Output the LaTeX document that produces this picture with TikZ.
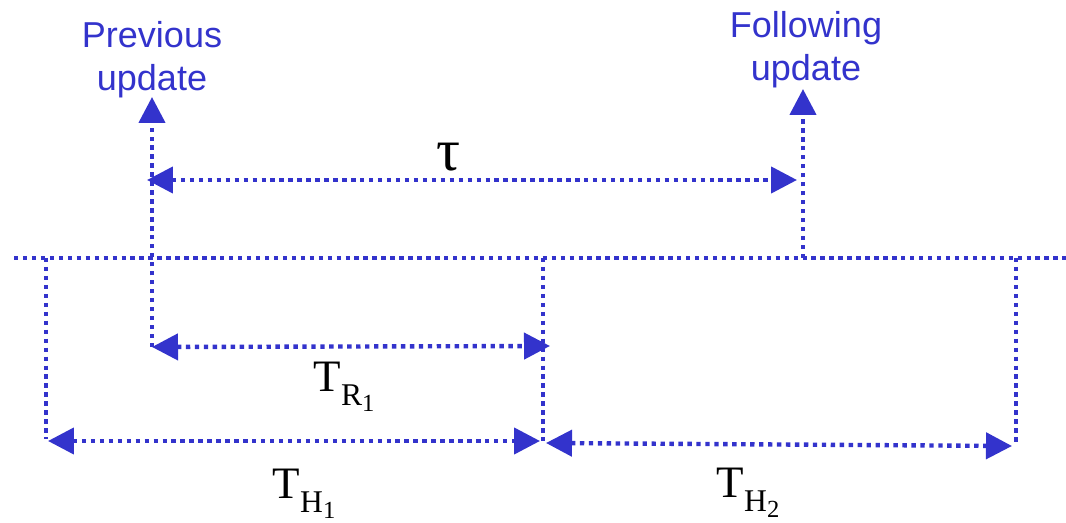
\documentclass[tikz,border=0pt]{standalone}
\usepackage{fontspec}
\setmainfont{Liberation Sans}
\newfontfamily\timesfont{Liberation Serif}
\usetikzlibrary{arrows.meta}

\definecolor{updblue}{RGB}{51,51,204}

\tikzset{
dotline/.style={draw=updblue, line width=2.5pt, dash pattern=on 2.5pt off 2.6pt},
headone/.style={-{Triangle[length=0.52cm,width=0.52cm]}},
headtwo/.style={{Triangle[length=0.52cm,width=0.52cm]}-{Triangle[length=0.52cm,width=0.52cm]}},
updlabel/.style={text=updblue, font=\fontsize{20.5}{24.5}\selectfont, align=center, inner sep=0pt},
timelabel/.style={font=\timesfont\fontsize{25.6}{26}\selectfont, inner sep=0pt}
}

\newcommand{\tsub}[2]{T\raisebox{-8pt}{\fontsize{18}{18}\selectfont #1\raisebox{-3.5pt}{\fontsize{14}{14}\selectfont #2}}}

\begin{document}
\begin{tikzpicture}[x=0.02cm, y=-0.02cm]

\useasboundingbox (0,0) rectangle (1066,523);

%%%%%%%%%%%%%%%%%%%%%%%%%%%%%%%%%%%%%%%%%%%%%%%%%%%%%%%%%%%%
% POINTS
%%%%%%%%%%%%%%%%%%%%%%%%%%%%%%%%%%%%%%%%%%%%%%%%%%%%%%%%%%%%

\coordinate (lineL) at (14,258);
\coordinate (lineR) at (1066,258);

\coordinate (prevlow) at (152,347);
\coordinate (prevtop) at (152,97);
\coordinate (folllow) at (803,258);
\coordinate (folltop) at (803,89);

\coordinate (tauL) at (147,180);
\coordinate (tauR) at (797,180);

\coordinate (leftup) at (46,258);
\coordinate (leftdown) at (46,439);
\coordinate (midup) at (543,258);
\coordinate (middown) at (543,441);
\coordinate (rightup) at (1016,258);
\coordinate (rightdown) at (1016,446);

\coordinate (rA) at (152,347);
\coordinate (rB) at (550,346);
\coordinate (hA) at (48,441);
\coordinate (hB) at (540,441);
\coordinate (hC) at (546,443);
\coordinate (hD) at (1012,446);

%%%%%%%%%%%%%%%%%%%%%%%%%%%%%%%%%%%%%%%%%%%%%%%%%%%%%%%%%%%%
% Updates
%%%%%%%%%%%%%%%%%%%%%%%%%%%%%%%%%%%%%%%%%%%%%%%%%%%%%%%%%%%%

\node[updlabel](prev) at (152,60) {Previous\\update};
\node[updlabel](foll) at (806,50) {Following\\update};

\draw[dotline,headone] (prevlow) -- (prevtop);
\draw[dotline,headone] (folllow) -- (folltop);

%%%%%%%%%%%%%%%%%%%%%%%%%%%%%%%%%%%%%%%%%%%%%%%%%%%%%%%%%%%%
% Time line
%%%%%%%%%%%%%%%%%%%%%%%%%%%%%%%%%%%%%%%%%%%%%%%%%%%%%%%%%%%%

\draw[dotline] (lineL) -- (lineR);
\draw[dotline] (leftup) -- (leftdown);
\draw[dotline] (midup) -- (middown);
\draw[dotline] (rightup) -- (rightdown);

%%%%%%%%%%%%%%%%%%%%%%%%%%%%%%%%%%%%%%%%%%%%%%%%%%%%%%%%%%%%
% Intervals
%%%%%%%%%%%%%%%%%%%%%%%%%%%%%%%%%%%%%%%%%%%%%%%%%%%%%%%%%%%%

\draw[dotline,headtwo] (tauL) -- (tauR);
\node[timelabel,font=\timesfont\fontsize{34}{34}\selectfont](tau) at (448,157) {τ};

\draw[dotline,headtwo] (rA) -- (rB);
\node[timelabel](tr) at (344,387) {\tsub{R}{1}};

\draw[dotline,headtwo] (hA) -- (hB);
\node[timelabel](th1) at (304,494) {\tsub{H}{1}};

\draw[dotline,headtwo] (hC) -- (hD);
\node[timelabel](th2) at (748,493) {\tsub{H}{2}};

\end{tikzpicture}
\end{document}
